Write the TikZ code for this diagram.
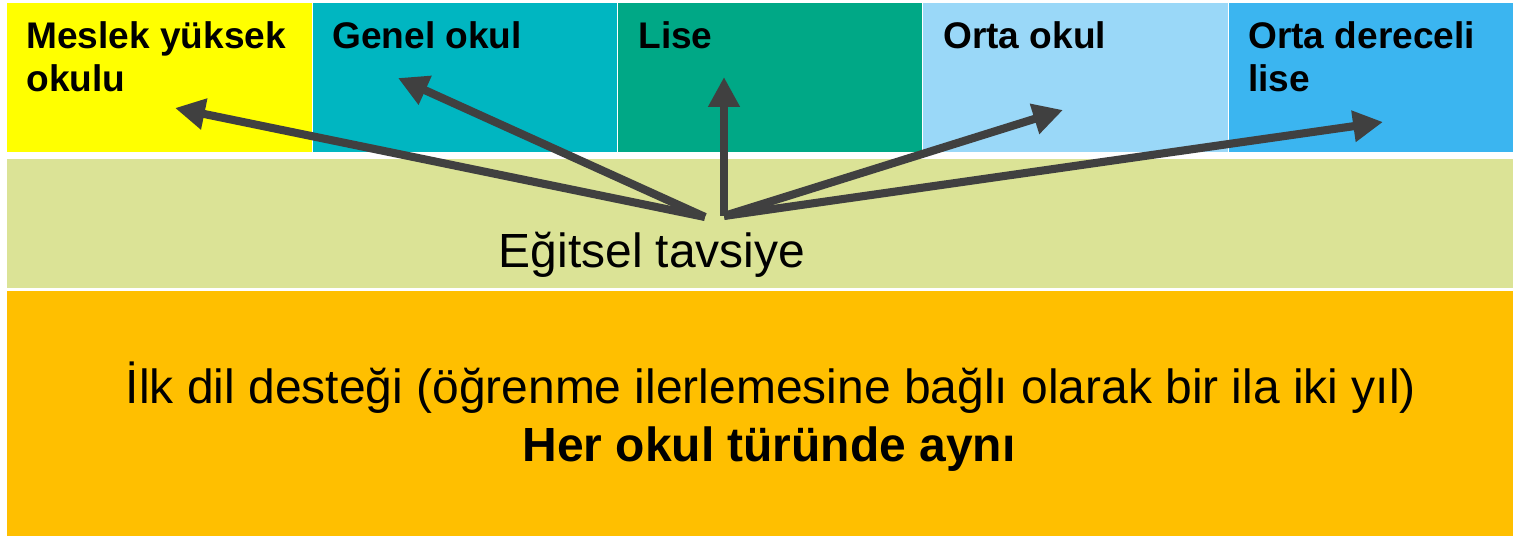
\documentclass[tikz,border=0pt]{standalone}
\usepackage{fontspec}
\setmainfont{Liberation Sans}
\usepackage{xcolor}
\usetikzlibrary{arrows.meta}

\definecolor{cYellow}{HTML}{FFFF00}
\definecolor{cTeal}{HTML}{00B6C1}
\definecolor{cGreen}{HTML}{00A886}
\definecolor{cLightBlue}{HTML}{9AD8F8}
\definecolor{cBlue}{HTML}{3BB5F0}
\definecolor{cBand}{HTML}{DBE396}
\definecolor{cOrange}{HTML}{FFBF00}
\definecolor{cArrow}{HTML}{404040}

\tikzset{
  schooltxt/.style={anchor=north west,inner sep=0pt,align=left,
    font=\fontsize{21.1}{24.8}\selectfont\bfseries},
  bandtxt/.style={anchor=base,inner sep=0pt,font=\fontsize{27.3}{32}\selectfont},
  tip/.style={-{Triangle[length=17pt,width=17pt]},line width=4.6pt,cArrow}
}

\begin{document}
\begin{tikzpicture}[x=0.02cm,y=-0.02cm]
	\useasboundingbox (0,0) rectangle (1513,536);
	\fill[white] (0,0) rectangle (1513,536);
	% school types
	\fill[cYellow] (7,3) rectangle (312,152);
	\fill[cTeal] (313,3) rectangle (617,152);
	\fill[cGreen] (618,3) rectangle (922,152);
	\fill[cLightBlue] (923,3) rectangle (1228,152);
	\fill[cBlue] (1229,3) rectangle (1513,152);
	\node[schooltxt] (mesl) at (26,21) {Meslek yüksek\\okulu};
	\node[schooltxt] (genel) at (332,21) {Genel okul};
	\node[schooltxt] (lise) at (638,21) {Lise};
	\node[schooltxt] (orta) at (943,21) {Orta okul};
	\node[schooltxt] (ortader) at (1248,21) {Orta dereceli\\lise};
	% bands
	\fill[cBand] (7,159) rectangle (1513,288);
	\fill[cOrange] (7,291) rectangle (1513,536);
	\node[bandtxt] (tavs) at (652,268) {Eğitsel tavsiye};
	\node[bandtxt] (dil) at (771,403) {İlk dil desteği (öğrenme ilerlemesine bağlı olarak bir ila iki yıl)};
	\node[bandtxt,font=\fontsize{27.3}{32}\selectfont\bfseries] (ayni) at (769,461) {Her okul türünde aynı};
	% arrows
	\coordinate (srcL) at (705,217);
	\coordinate (srcR) at (724,216);
	\coordinate (tMesl) at (175,108);
	\coordinate (tGenel) at (398,78);
	\coordinate (tLise) at (724,77);
	\coordinate (tOrta) at (1063,110);
	\coordinate (tOrtader) at (1383,122);
	\draw[tip] (srcL) -- (tMesl);
	\draw[tip] (srcL) -- (tGenel);
	\draw[tip] (srcR) -- (tLise);
	\draw[tip] (srcR) -- (tOrta);
	\draw[tip] (srcR) -- (tOrtader);
\end{tikzpicture}
\end{document}
